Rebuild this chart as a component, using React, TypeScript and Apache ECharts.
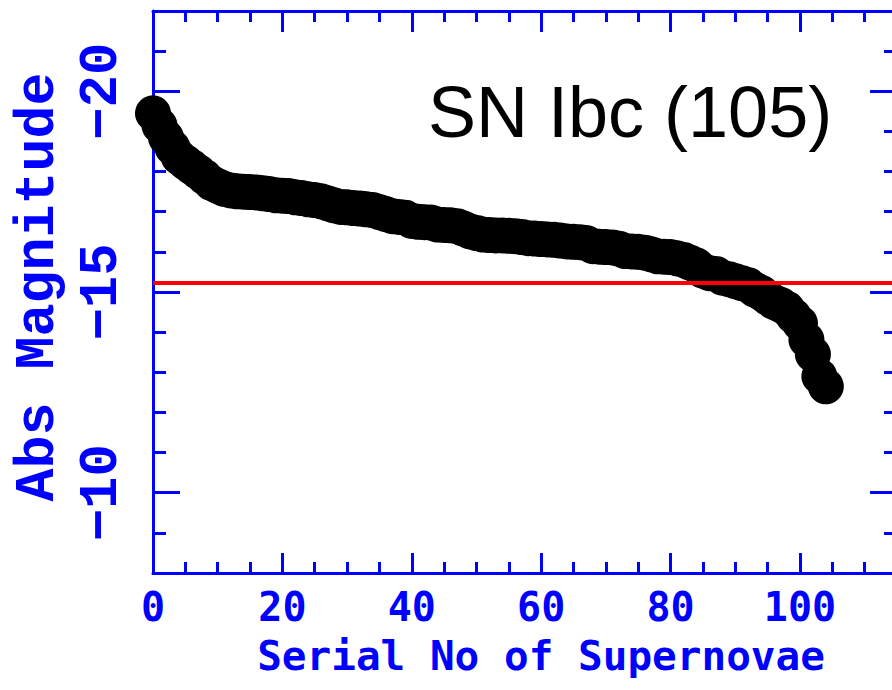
import React, { useEffect, useRef } from "react";
import * as echarts from "echarts";

// Absolute magnitude of each supernova, sorted from brightest to faintest (serial 0..104)
const magnitudes: number[] = [
  -19.45, -19.15, -18.85, -18.6, -18.36, -18.23, -18.11, -17.99, -17.86, -17.72,
  -17.64, -17.57, -17.53, -17.51, -17.5, -17.49, -17.48, -17.46, -17.44, -17.41,
  -17.4, -17.39, -17.36, -17.34, -17.31, -17.29, -17.26, -17.21, -17.16, -17.12,
  -17.11, -17.09, -17.08, -17.06, -17.04, -16.99, -16.94, -16.89, -16.87, -16.85,
  -16.77, -16.75, -16.74, -16.73, -16.68, -16.67, -16.66, -16.64, -16.58, -16.51,
  -16.47, -16.43, -16.42, -16.41, -16.41, -16.4, -16.39, -16.37, -16.34, -16.33,
  -16.32, -16.31, -16.3, -16.28, -16.26, -16.25, -16.24, -16.22, -16.14, -16.13,
  -16.12, -16.11, -16.08, -16.02, -16.01, -16.0, -15.98, -15.94, -15.89, -15.88,
  -15.87, -15.84, -15.8, -15.73, -15.66, -15.53, -15.47, -15.45, -15.36, -15.32,
  -15.27, -15.22, -15.17, -15.06, -14.98, -14.86, -14.75, -14.68, -14.58, -14.4,
  -14.22, -13.81, -13.45, -12.9, -12.65,
];

const limitMagnitude = -15.22;
const yLabelValues: number[] = [-20, -15, -10];
const titleText = "SN Ibc (105)";
const xAxisName = "Serial No of Supernovae";
const yAxisName = "Abs Magnitude";

const BLUE = "#0000ff";
const MONO = "'DejaVu Sans Mono', 'Liberation Mono', monospace";
const MONO2 = "'Liberation Mono', 'DejaVu Sans Mono', monospace";

export default function App() {
  const ref = useRef<HTMLDivElement>(null);

  useEffect(() => {
    if (!ref.current) return;
    const chart = echarts.init(ref.current, undefined, { renderer: "svg" });

    const axisLineStyle = { color: BLUE, width: 3 };
    const tickStyle = { color: BLUE, width: 3 };
    const minus = (v: number) => String(v).replace("-", "\u2212");

    const xBase = {
      type: "value" as const,
      min: 0,
      max: 115,
      splitLine: { show: false },
    };
    const yBase = {
      type: "value" as const,
      min: -22,
      max: -8,
      inverse: true,
      splitLine: { show: false },
    };

    const option: any = {
      animation: false,
      backgroundColor: "#ffffff",
      grid: {
        left: 153,
        top: 11,
        right: -5,
        bottom: 117,
        containLabel: false,
        outerBoundsMode: "none",
      },
      xAxis: [
        {
          ...xBase,
          position: "bottom",
          interval: 20,
          axisLine: { show: true, onZero: false, lineStyle: axisLineStyle },
          axisTick: { show: true, inside: true, length: 20, lineStyle: tickStyle },
          axisLabel: {
            show: true,
            showMaxLabel: false,
            color: BLUE,
            fontFamily: MONO,
            fontWeight: "bold",
            fontSize: 40,
            margin: 14,
          },
          name: xAxisName,
          nameLocation: "middle",
          nameGap: 62,
          nameTextStyle: {
            color: BLUE,
            fontFamily: MONO,
            fontWeight: "bold",
            fontSize: 41,
            padding: [0, 0, 0, 32],
          },
        },
        {
          ...xBase,
          position: "bottom",
          interval: 5,
          axisLine: { show: false, onZero: false },
          axisTick: { show: true, inside: true, length: 11, lineStyle: tickStyle },
          axisLabel: { show: false },
        },
        {
          ...xBase,
          position: "top",
          interval: 20,
          axisLine: { show: true, onZero: false, lineStyle: axisLineStyle },
          axisTick: { show: true, inside: true, length: 21, lineStyle: tickStyle },
          axisLabel: { show: false },
        },
        {
          ...xBase,
          position: "top",
          interval: 5,
          axisLine: { show: false, onZero: false },
          axisTick: { show: true, inside: true, length: 11, lineStyle: tickStyle },
          axisLabel: { show: false },
        },
      ],
      yAxis: [
        {
          ...yBase,
          position: "left",
          axisLine: { show: true, onZero: false, lineStyle: axisLineStyle },
          axisTick: {
            show: true,
            inside: true,
            length: 27,
            customValues: yLabelValues,
            lineStyle: tickStyle,
          },
          axisLabel: {
            show: true,
            customValues: yLabelValues,
            rotate: 90,
            margin: 25,
            color: BLUE,
            fontFamily: MONO2,
            fontWeight: "bold",
            fontSize: 54,
            formatter: minus,
          },
        },
        {
          ...yBase,
          position: "left",
          interval: 1,
          axisLine: { show: false, onZero: false },
          axisTick: { show: true, inside: true, length: 13, lineStyle: tickStyle },
          axisLabel: { show: false },
        },
        {
          ...yBase,
          position: "right",
          axisLine: { show: true, onZero: false, lineStyle: axisLineStyle },
          axisTick: {
            show: true,
            inside: true,
            length: 27,
            customValues: yLabelValues,
            lineStyle: tickStyle,
          },
          axisLabel: { show: false },
        },
        {
          ...yBase,
          position: "right",
          interval: 1,
          axisLine: { show: false, onZero: false },
          axisTick: { show: true, inside: true, length: 13, lineStyle: tickStyle },
          axisLabel: { show: false },
        },
      ],
      series: [
        {
          type: "scatter",
          xAxisIndex: 0,
          yAxisIndex: 0,
          symbol: "circle",
          symbolSize: 36,
          clip: true,
          itemStyle: { color: "#000000", opacity: 1 },
          emphasis: { disabled: true },
          silent: true,
          data: magnitudes.map((m, i) => [i, m]),
          markLine: {
            silent: true,
            symbol: ["none", "none"],
            label: { show: false },
            lineStyle: { color: "#ff0000", width: 4, type: "solid", opacity: 1 },
            emphasis: { disabled: true },
            data: [{ yAxis: limitMagnitude }],
          },
        },
      ],
      graphic: [
        {
          type: "text",
          x: 428,
          y: 112,
          z: 10,
          style: {
            text: titleText,
            fill: "#000000",
            fontFamily: "'Liberation Sans', Arial, sans-serif",
            fontSize: 72,
            align: "left",
            verticalAlign: "middle",
          },
        },
        {
          type: "text",
          x: 38,
          y: 287,
          rotation: Math.PI / 2,
          z: 10,
          style: {
            text: yAxisName,
            fill: BLUE,
            fontFamily: MONO2,
            fontWeight: "bold",
            fontSize: 55,
            align: "center",
            verticalAlign: "middle",
          },
        },
      ],
    };

    chart.setOption(option);
    return () => chart.dispose();
  }, []);

  return (
    <div
      ref={ref}
      style={{ position: "absolute", left: 0, top: 0, width: 892, height: 690 }}
    />
  );
}
